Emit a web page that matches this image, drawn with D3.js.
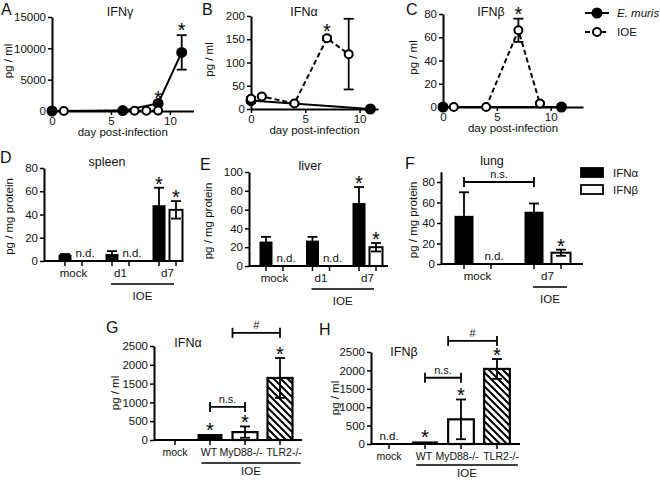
<!DOCTYPE html>
<html>
<head>
<meta charset="utf-8">
<script src="https://cdn.jsdelivr.net/npm/d3@7"></script>
<style>
  body { margin: 0; background: #fff; }
  svg { font-family: "Liberation Sans", Arial, Helvetica, sans-serif; }
</style>
</head>
<body>
<svg id="fig" width="660" height="481"></svg>
<script>
// ---------- data ----------
const tickDays = [0, 5, 10];

// A: IFNγ in serum
const ifngMurisDay = [0, 6, 9, 11];
const ifngMurisPg  = [0, 60, 1200, 9350];
const ifngMurisSem = [0, 0, 0, 2750];
const ifngIoeDay   = [1, 7, 8, 9];
const ifngIoePg    = [0, 40, 40, 60];
const ifngIoeSem   = [0, 0, 0, 0];
const ifngStarDay  = [9, 11];
const ifngTicks    = [0, 5000, 10000, 15000];

// B: IFNα in serum
const ifnaMurisDay = [0, 11];
const ifnaMurisPg  = [18, 0];
const ifnaMurisSem = [4, 0];
const ifnaIoeDay   = [0, 1, 4, 7, 9];
const ifnaIoePg    = [22, 27, 12, 152, 118];
const ifnaIoeSem   = [4, 2, 3, 4, 76];
const ifnaStarDay  = [7];
const ifnaTicks    = [0, 50, 100, 150, 200];

// C: IFNβ in serum
const ifnbMurisDay = [0, 11];
const ifnbMurisPg  = [0, 0];
const ifnbMurisSem = [0, 0];
const ifnbIoeDay   = [1, 4, 7, 9];
const ifnbIoePg    = [0, 0, 66, 3];
const ifnbIoeSem   = [0, 0, 10, 1];
const ifnbStarDay  = [7];
const ifnbTicks    = [0, 20, 40, 60, 80];

const seriesNames = ['E. muris', 'IOE'];

// D-F: tissue IFN (pg / mg protein), null = n.d.
const ifnLegend = ['IFNα', 'IFNβ'];

const spleenGroup    = ['mock', 'd1', 'd7'];
const spleenAlpha    = [5.5, 6, 48];
const spleenAlphaSem = [0.5, 2.5, 15];
const spleenBeta     = [null, null, 44];
const spleenBetaSem  = [0, 0, 7.5];
const spleenStarA    = ['d7'];
const spleenStarB    = ['d7'];

const liverGroup    = ['mock', 'd1', 'd7'];
const liverAlpha    = [26, 27, 67];
const liverAlphaSem = [5, 4, 17];
const liverBeta     = [null, null, 20];
const liverBetaSem  = [0, 0, 4.5];
const liverStarA    = ['d7'];
const liverStarB    = ['d7'];

const lungGroup    = ['mock', 'd7'];
const lungAlpha    = [47, 51];
const lungAlphaSem = [23, 8];
const lungBeta     = [null, 11];
const lungBetaSem  = [0, 3];
const lungStarA    = [];
const lungStarB    = ['d7'];

// G-H: knockout mice (pg / ml)
const genotype   = ['mock', 'WT', 'MyD88-/-', 'TLR2-/-'];
const koIfna     = [25, 160, 210, 1650];
const koIfnaSem  = [0, 10, 150, 530];
const koIfnaStar = ['WT', 'MyD88-/-', 'TLR2-/-'];
const koIfnb     = [null, 70, 670, 2040];
const koIfnbSem  = [0, 10, 540, 270];
const koIfnbStar = ['WT', 'MyD88-/-', 'TLR2-/-'];
const koTicks    = [0, 500, 1000, 1500, 2000, 2500];

// ---------- drawing ----------
const svg = d3.select('#fig');
const FS = 11.5;
const fmt = d3.format('d');

const defs = svg.append('defs');
defs.append('pattern')
  .attr('id', 'hatch')
  .attr('patternUnits', 'userSpaceOnUse')
  .attr('width', 7).attr('height', 7)
  .append('path')
  .attr('d', 'M-1,-1 L8,8 M-1,6 L1,8 M6,-1 L8,1')
  .attr('stroke', '#000').attr('stroke-width', 2);

function axisStyle(g) {
  g.attr('font-family', null).attr('font-size', null);
  g.selectAll('path.domain').attr('stroke', '#000').attr('stroke-width', 2);
  g.selectAll('.tick line').attr('stroke', '#000').attr('stroke-width', 1.5);
  g.selectAll('.tick text').attr('font-size', FS).attr('fill', '#111');
}

function label(txt, x, y, opts = {}) {
  const t = svg.append('text')
    .attr('x', x).attr('y', y)
    .attr('text-anchor', opts.anchor || 'middle')
    .attr('font-size', opts.size || FS)
    .attr('fill', '#111')
    .text(txt);
  if (opts.rotate) t.attr('transform', `rotate(-90,${x},${y})`);
  if (opts.italic) t.attr('font-style', 'italic');
  return t;
}

function star(x, y) {
  // y = pixel top of the bar / error bar
  svg.append('text')
    .attr('x', x).attr('y', y + 5)
    .attr('text-anchor', 'middle')
    .attr('font-size', 20)
    .attr('fill', '#000')
    .text('*');
}

function errBar(x, yLo, yHi, half) {
  svg.append('line').attr('x1', x).attr('x2', x).attr('y1', yLo).attr('y2', yHi)
    .attr('stroke', '#000').attr('stroke-width', 1.8);
  [yLo, yHi].forEach(yy => {
    svg.append('line').attr('x1', x - half).attr('x2', x + half).attr('y1', yy).attr('y2', yy)
      .attr('stroke', '#000').attr('stroke-width', 1.8);
  });
}

function marker(x, y, filled) {
  svg.append('circle').attr('cx', x).attr('cy', y).attr('r', filled ? 4.5 : 4)
    .attr('fill', filled ? '#000' : '#fff')
    .attr('stroke', '#000').attr('stroke-width', 2);
}

// time course panels (A-C)
function drawTimeCourse(p) {
  const x = d3.scaleLinear().domain([0, p.xMax]).range([p.left, p.right]);
  const y = d3.scaleLinear().domain([0, p.yMax]).range([p.bottom, p.top]);

  svg.append('g').attr('transform', `translate(0,${p.bottom})`)
    .call(d3.axisBottom(x).tickValues(tickDays).tickSize(4).tickSizeOuter(0).tickPadding(2))
    .call(axisStyle);
  svg.append('g').attr('transform', `translate(${p.left},0)`)
    .call(d3.axisLeft(y).tickValues(p.yTicks).tickFormat(fmt).tickSize(4).tickSizeOuter(0).tickPadding(2))
    .call(axisStyle);

  const series = [
    {day: p.ioeDay, val: p.ioeVal, sem: p.ioeSem, filled: false, dash: '5,3'},
    {day: p.murisDay, val: p.murisVal, sem: p.murisSem, filled: true, dash: null}
  ];

  series.forEach(s => {
    const line = d3.line().x(i => x(s.day[i])).y(i => y(s.val[i]));
    svg.append('path').attr('d', line(d3.range(s.day.length)))
      .attr('fill', 'none').attr('stroke', '#000').attr('stroke-width', 2)
      .attr('stroke-dasharray', s.dash);
  });
  series.forEach(s => {
    s.day.forEach((d, i) => {
      if (s.sem[i] > 0) errBar(x(d), y(Math.max(0, s.val[i] - s.sem[i])), y(s.val[i] + s.sem[i]), 5);
    });
  });
  series.slice().reverse().forEach(s => {
    s.day.forEach((d, i) => marker(x(d), y(s.val[i]), s.filled));
  });

  p.stars.forEach(d => {
    let top = 0;
    series.forEach(s => {
      const i = s.day.indexOf(d);
      if (i >= 0) top = Math.max(top, s.val[i] + s.sem[i]);
    });
    star(x(d), y(top) - 3);
  });

  label('day post-infection', (p.left + p.right) / 2, p.bottom + 25);
  label('pg / ml', p.ylabX, (p.top + p.bottom) / 2 - 3, {rotate: true});
  label(p.title, p.titleX, 16, {size: 12.5});
  label(p.letter, p.letterX, 15, {size: 16, anchor: 'start'});
}

drawTimeCourse({letter: 'A', letterX: 1, title: 'IFNγ', titleX: 120,
  left: 52, right: 193.5, bottom: 111, top: 17, xMax: 12, yMax: 15000, yTicks: ifngTicks, ylabX: 12,
  murisDay: ifngMurisDay, murisVal: ifngMurisPg, murisSem: ifngMurisSem,
  ioeDay: ifngIoeDay, ioeVal: ifngIoePg, ioeSem: ifngIoeSem, stars: ifngStarDay});

drawTimeCourse({letter: 'B', letterX: 202, title: 'IFNα', titleX: 304,
  left: 251, right: 378, bottom: 109, top: 16, xMax: 11.7, yMax: 200, yTicks: ifnaTicks, ylabX: 213,
  murisDay: ifnaMurisDay, murisVal: ifnaMurisPg, murisSem: ifnaMurisSem,
  ioeDay: ifnaIoeDay, ioeVal: ifnaIoePg, ioeSem: ifnaIoeSem, stars: ifnaStarDay});

drawTimeCourse({letter: 'C', letterX: 406, title: 'IFNβ', titleX: 491,
  left: 443, right: 583, bottom: 107, top: 14, xMax: 13, yMax: 80, yTicks: ifnbTicks, ylabX: 417,
  murisDay: ifnbMurisDay, murisVal: ifnbMurisPg, murisSem: ifnbMurisSem,
  ioeDay: ifnbIoeDay, ioeVal: ifnbIoePg, ioeSem: ifnbIoeSem, stars: ifnbStarDay});

// legend for A-C
seriesNames.forEach((name, i) => {
  const yy = 13 + i * 19;
  svg.append('line').attr('x1', 585).attr('x2', 609).attr('y1', yy).attr('y2', yy)
    .attr('stroke', '#000').attr('stroke-width', 2)
    .attr('stroke-dasharray', i === 1 ? '5,3' : null);
  marker(597, yy, i === 0);
  label(name, 617, yy + 4, {anchor: 'start', italic: i === 0});
});

// tissue panels (D-F)
function drawTissue(p) {
  const y = d3.scaleLinear().domain([0, p.yMax]).range([p.bottom, p.top]);
  const x0 = d3.scalePoint().domain(p.groups).range(p.centers);
  const x1 = d3.scalePoint().domain(ifnLegend).range([-p.off, p.off]);

  svg.append('g').attr('transform', `translate(${p.left},0)`)
    .call(d3.axisLeft(y).tickValues(p.yTicks).tickSize(4).tickSizeOuter(0).tickPadding(2))
    .call(axisStyle);

  const vals = {'IFNα': [p.alpha, p.alphaSem], 'IFNβ': [p.beta, p.betaSem]};
  ifnLegend.forEach((ifn, k) => {
    const [v, e] = vals[ifn];
    p.groups.forEach((grp, i) => {
      const cx = x0(grp) + x1(ifn);
      if (v[i] === null) {
        label('n.d.', cx + 3, p.bottom - 4);
        return;
      }
      svg.append('rect')
        .attr('x', cx - p.bw / 2).attr('width', p.bw)
        .attr('y', y(v[i])).attr('height', p.bottom - y(v[i]))
        .attr('fill', k === 0 ? '#000' : '#fff')
        .attr('stroke', '#000').attr('stroke-width', k === 0 ? 0 : 2);
      if (e[i] > 0) errBar(cx, y(Math.max(0, v[i] - e[i])), y(v[i] + e[i]), 5);
    });
  });

  // stars
  [[p.starA, 'IFNα', p.alpha, p.alphaSem], [p.starB, 'IFNβ', p.beta, p.betaSem]].forEach(([list, ifn, v, e]) => {
    list.forEach(grp => {
      const i = p.groups.indexOf(grp);
      star(x0(grp) + x1(ifn), y(v[i] + e[i]) - 2);
    });
  });

  // x axis + ticks under each bar
  svg.append('line').attr('x1', p.left).attr('x2', p.right).attr('y1', p.bottom).attr('y2', p.bottom)
    .attr('stroke', '#000').attr('stroke-width', 2);
  p.groups.forEach(grp => {
    ifnLegend.forEach(ifn => {
      const cx = x0(grp) + x1(ifn);
      svg.append('line').attr('x1', cx).attr('x2', cx).attr('y1', p.bottom).attr('y2', p.bottom + 5)
        .attr('stroke', '#000').attr('stroke-width', 1.5);
    });
    label(grp, x0(grp), p.bottom + 16);
  });

  // IOE underline
  const ioe = p.groups.filter(g => g !== 'mock');
  const lx1 = x0(ioe[0]) + x1('IFNα') - 1;
  const lx2 = x0(ioe[ioe.length - 1]) + x1('IFNβ') + p.ioeExtra;
  svg.append('line').attr('x1', lx1).attr('x2', lx2).attr('y1', p.bottom + 23).attr('y2', p.bottom + 23)
    .attr('stroke', '#000').attr('stroke-width', 1.5);
  label('IOE', (lx1 + lx2) / 2, p.bottom + 39);

  label('pg / mg protein', p.ylabX, (p.top + p.bottom) / 2 + 2, {rotate: true});
  label(p.title, p.titleX, p.titleY, {size: 12.5});
  label(p.letter, p.letterX, p.letterY, {size: 16, anchor: 'start'});
  return {x0, x1, y};
}

drawTissue({letter: 'D', letterX: 0, letterY: 163, title: 'spleen', titleX: 107, titleY: 166,
  left: 44, right: 177, bottom: 261, top: 168, yMax: 80, yTicks: [0, 20, 40, 60, 80],
  groups: spleenGroup, centers: [73.5, 167.5], off: 8.5, bw: 13, ioeExtra: -2, ylabX: 13,
  alpha: spleenAlpha, alphaSem: spleenAlphaSem, beta: spleenBeta, betaSem: spleenBetaSem,
  starA: spleenStarA, starB: spleenStarB});

drawTissue({letter: 'E', letterX: 200, letterY: 170, title: 'liver', titleX: 310, titleY: 170,
  left: 249, right: 388, bottom: 266, top: 172, yMax: 100, yTicks: [0, 20, 40, 60, 80, 100],
  groups: liverGroup, centers: [274.5, 367.5], off: 8.5, bw: 13, ioeExtra: -2, ylabX: 212,
  alpha: liverAlpha, alphaSem: liverAlphaSem, beta: liverBeta, betaSem: liverBetaSem,
  starA: liverStarA, starB: liverStarB});

const lung = drawTissue({letter: 'F', letterX: 405, letterY: 169, title: 'lung', titleX: 492, titleY: 165,
  left: 441, right: 583, bottom: 264, top: 171.75, yMax: 90, yTicks: [0, 20, 40, 60, 80],
  groups: lungGroup, centers: [477.5, 547.5], off: 13.5, bw: 19, ioeExtra: 6, ylabX: 417,
  alpha: lungAlpha, alphaSem: lungAlphaSem, beta: lungBeta, betaSem: lungBetaSem,
  starA: lungStarA, starB: lungStarB});

function bracket(xa, xb, yy, txt) {
  svg.append('line').attr('x1', xa).attr('x2', xb).attr('y1', yy).attr('y2', yy)
    .attr('stroke', '#000').attr('stroke-width', 1.8);
  [xa, xb].forEach(xx => {
    svg.append('line').attr('x1', xx).attr('x2', xx).attr('y1', yy - 5).attr('y2', yy + 5)
      .attr('stroke', '#000').attr('stroke-width', 1.8);
  });
  label(txt, (xa + xb) / 2, yy - 4, {size: 11});
}

// n.s. in lung: mock vs d7 IFNα
bracket(lung.x0('mock') + lung.x1('IFNα'), lung.x0('d7') + lung.x1('IFNα'), lung.y(80), 'n.s.');

// legend for D-F
ifnLegend.forEach((name, i) => {
  const yy = 168 + i * 17;
  svg.append('rect').attr('x', 581).attr('y', yy).attr('width', 22).attr('height', 9)
    .attr('fill', i === 0 ? '#000' : '#fff').attr('stroke', '#000').attr('stroke-width', 1.8);
  label(name, 613, yy + 9, {anchor: 'start'});
});

// knockout panels (G-H)
function drawKnockout(p) {
  const y = d3.scaleLinear().domain([0, 2500]).range([p.bottom, p.top]);
  const x = d3.scaleBand().domain(genotype).range(p.range).paddingInner(0.286).paddingOuter(0.143);
  const bw = x.bandwidth();
  const fills = {'mock': '#000', 'WT': '#000', 'MyD88-/-': '#fff', 'TLR2-/-': 'url(#hatch)'};
  const labelDx = {'mock': 0, 'WT': -1, 'MyD88-/-': -4, 'TLR2-/-': 4};

  svg.append('g').attr('transform', `translate(${p.left},0)`)
    .call(d3.axisLeft(y).tickValues(koTicks).tickFormat(fmt).tickSize(4).tickSizeOuter(0).tickPadding(2))
    .call(axisStyle);

  genotype.forEach((gt, i) => {
    const cx = x(gt) + bw / 2;
    if (p.vals[i] === null) {
      label('n.d.', cx, p.bottom - 4);
      return;
    }
    svg.append('rect')
      .attr('x', x(gt)).attr('width', bw)
      .attr('y', y(p.vals[i])).attr('height', p.bottom - y(p.vals[i]))
      .attr('fill', fills[gt])
      .attr('stroke', '#000').attr('stroke-width', fills[gt] === '#000' ? 0 : 2.2);
    if (p.sem[i] > 20) errBar(cx, y(Math.max(0, p.vals[i] - p.sem[i])), y(p.vals[i] + p.sem[i]), 5);
  });
  p.stars.forEach(gt => {
    const i = genotype.indexOf(gt);
    star(x(gt) + bw / 2, y(p.vals[i] + p.sem[i]) - 2);
  });

  svg.append('line').attr('x1', p.left).attr('x2', p.right).attr('y1', p.bottom).attr('y2', p.bottom)
    .attr('stroke', '#000').attr('stroke-width', 2);
  genotype.forEach(gt => {
    const cx = x(gt) + bw / 2;
    svg.append('line').attr('x1', cx).attr('x2', cx).attr('y1', p.bottom).attr('y2', p.bottom + 5)
      .attr('stroke', '#000').attr('stroke-width', 1.5);
    label(gt, cx + labelDx[gt], p.bottom + 16, {size: 10.5});
  });

  const lx1 = x('WT') + 4, lx2 = x('TLR2-/-') + bw + 8;
  svg.append('line').attr('x1', lx1).attr('x2', lx2).attr('y1', p.bottom + p.ioeY).attr('y2', p.bottom + p.ioeY)
    .attr('stroke', '#000').attr('stroke-width', 1.5);
  label('IOE', (lx1 + lx2) / 2, p.bottom + p.ioeY + 12);

  bracket(x('WT') + bw / 2, x('MyD88-/-') + bw / 2, y(p.nsAt), 'n.s.');
  bracket(x('MyD88-/-'), x('TLR2-/-') + bw / 2, y(p.hashAt), '#');

  label('pg / ml', p.ylabX, (p.top + p.bottom) / 2, {rotate: true});
  label(p.title, p.titleX, p.titleY, {size: 12.5});
  label(p.letter, p.letterX, p.letterY, {size: 16, anchor: 'start'});
}

drawKnockout({letter: 'G', letterX: 106, letterY: 333, title: 'IFNα', titleX: 188, titleY: 347,
  left: 154, right: 302, bottom: 440, top: 346, range: [157.5, 297.5], ylabX: 119, ioeY: 23,
  vals: koIfna, sem: koIfnaSem, stars: koIfnaStar, nsAt: 880, hashAt: 2850});

drawKnockout({letter: 'H', letterX: 319, letterY: 335, title: 'IFNβ', titleX: 404, titleY: 356,
  left: 371, right: 520, bottom: 444, top: 352, range: [371, 515], ylabX: 339, ioeY: 21,
  vals: koIfnb, sem: koIfnbSem, stars: koIfnbStar, nsAt: 1800, hashAt: 2800});
</script>
</body>
</html>
